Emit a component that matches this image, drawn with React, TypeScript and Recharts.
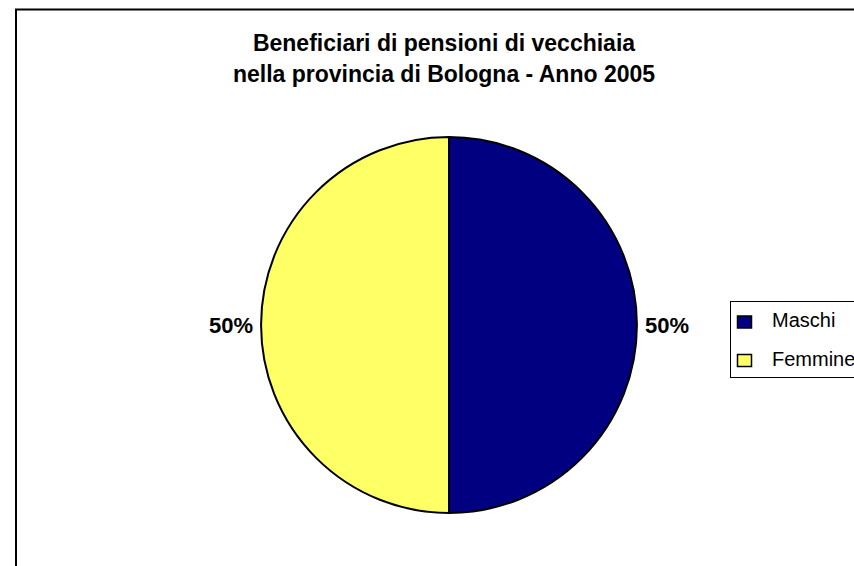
import { PieChart, Pie, Cell, Legend } from "recharts";

const CATEGORIES = ["Maschi", "Femmine"];
const VALUES = [50, 50];
const COLORS = ["#000080", "#FFFF66"];
const TITLE_LINES = [
  "Beneficiari di pensioni di vecchiaia",
  "nella provincia di Bologna - Anno 2005",
];

const data = CATEGORIES.map((name, i) => ({ name, value: VALUES[i] }));

const FONT = "'Liberation Sans', Arial, sans-serif";

const PctLabel = ({ cx, cy, midAngle, outerRadius, percent }: any) => {
  const RADIAN = Math.PI / 180;
  const cos = Math.cos(-midAngle * RADIAN);
  const r = outerRadius + 8;
  const x = cx + r * cos;
  const y = cy + r * Math.sin(-midAngle * RADIAN);
  return (
    <text
      x={x}
      y={y}
      fill="#000"
      textAnchor={cos >= 0 ? "start" : "end"}
      dominantBaseline="central"
      fontSize={22}
      fontWeight="bold"
      fontFamily={FONT}
    >
      {(percent * 100).toFixed(0)}%
    </text>
  );
};

const BoxLegend = () => (
  <svg width={140} height={78} style={{ display: "block" }}>
    <rect x={0.5} y={0.5} width={160} height={76} fill="#fff" stroke="#000" strokeWidth={1} />
    {data.map((d, i) => (
      <g key={d.name}>
        <rect x={7.5} y={15 + i * 38.5} width={14} height={12} fill={COLORS[i]} stroke="#000" strokeWidth={1.5} />
        <text x={42} y={26 + i * 38.5} fontSize={20} fontFamily={FONT} fill="#000">
          {d.name}
        </text>
      </g>
    ))}
  </svg>
);

export default function App() {
  return (
    <div
      style={{
        position: "absolute",
        left: 0,
        top: 0,
        width: 854,
        height: 566,
        overflow: "hidden",
        background: "#fff",
      }}
    >
      <svg width={854} height={566} style={{ position: "absolute", left: 0, top: 0 }}>
        <rect x={16} y={9.5} width={900} height={700} fill="#fff" stroke="#000" strokeWidth={2} />
        {TITLE_LINES.map((t, i) => (
          <text
            key={i}
            x={444}
            y={51 + i * 31}
            textAnchor="middle"
            fontSize={23}
            fontWeight="bold"
            fontFamily={FONT}
            fill="#000"
          >
            {t}
          </text>
        ))}
      </svg>
      <div style={{ position: "absolute", left: 0, top: 0 }}>
        <PieChart width={854} height={566} margin={{ top: 0, right: 0, bottom: 0, left: 0 }}>
          <Pie
            data={data}
            dataKey="value"
            nameKey="name"
            cx={449}
            cy={325}
            outerRadius={188}
            startAngle={90}
            endAngle={-270}
            stroke="#000"
            strokeWidth={2}
            labelLine={false}
            label={PctLabel}
            isAnimationActive={false}
          >
            {data.map((_, i) => (
              <Cell key={i} fill={COLORS[i]} />
            ))}
          </Pie>
          <Legend
            layout="vertical"
            align="right"
            verticalAlign="middle"
            wrapperStyle={{ left: 730, top: 301, width: 140 }}
            content={<BoxLegend />}
          />
        </PieChart>
      </div>
    </div>
  );
}
